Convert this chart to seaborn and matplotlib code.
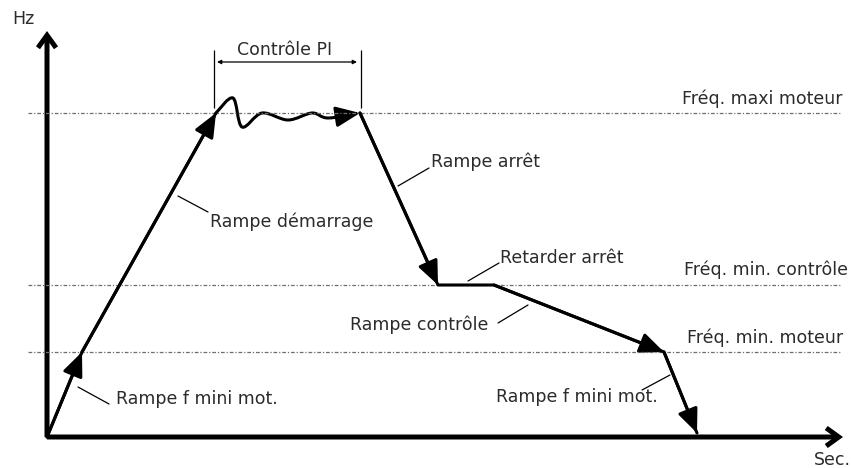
import numpy as np
import matplotlib
matplotlib.use('Agg')
import matplotlib.pyplot as plt
from matplotlib.patches import FancyArrowPatch, ArrowStyle
from matplotlib.path import Path
import seaborn as sns

# time (arbitrary units) and frequency levels
f_min_motor = 85
f_min_ctrl = 152
f_max = 324

ramp_t = [0, 35, 169]
ramp_f = [0, f_min_motor, f_max]
pi_t = [169, 186, 195, 215, 241, 265, 281, 313]
pi_f = [f_max, 339, 310, 324, 317, 324, 319, f_max]
stop_t = [313, 391, 447, 617, 650]
stop_f = [f_max, f_min_ctrl, f_min_ctrl, f_min_motor, 4]

levels = [f_max, f_min_ctrl, f_min_motor]
level_labels = ['Fréq. maxi moteur', 'Fréq. min. contrôle', 'Fréq. min. moteur']

sns.set_theme(style='white')
plt.rcParams['font.family'] = ['DejaVu Sans']

fig = plt.figure(figsize=(8.51, 4.68), dpi=100)
ax = fig.add_axes([0, 0, 1, 1])
ax.set_xlim(-47, 804)
ax.set_ylim(-31, 437)
ax.set_axis_off()

txt = '#2b2b2b'
fs = 12.5

# dashed reference levels
ax.hlines(levels, -19, 793, colors='#6e6e6e', lw=0.9, linestyles=(0, (3, 1.5, 1, 1.5)))
for lv, lab, dy, xr in zip(levels, level_labels, [14, 15, 14], [796, 801, 796]):
    ax.text(xr, lv + dy, lab, ha='right', va='center', fontsize=fs, color=txt)

# axes with open arrow heads
ax_style = ArrowStyle('->', head_length=0.9, head_width=0.65)
for end in [(796, 0), (0, 406)]:
    ax.add_patch(FancyArrowPatch((0, 0), end, arrowstyle=ax_style, mutation_scale=10,
                                 lw=3.6, color='black', shrinkA=0, shrinkB=0,
                                 joinstyle='miter', capstyle='butt'))
ax.text(-23.5, 418, 'Hz', ha='center', va='center', fontsize=fs, color=txt)
ax.text(785, -23, 'Sec.', ha='center', va='center', fontsize=fs, color=txt)

# frequency profile
lw = 2.2
sns.lineplot(x=ramp_t, y=ramp_f, sort=False, estimator=None, color='black', lw=lw, ax=ax)
sns.lineplot(x=stop_t, y=stop_f, sort=False, estimator=None, color='black', lw=lw, ax=ax)

head = ArrowStyle('-|>', head_length=1.45, head_width=0.62)
segs = list(zip(ramp_t[:-1], ramp_f[:-1], ramp_t[1:], ramp_f[1:]))
segs += [s for i, s in enumerate(zip(stop_t[:-1], stop_f[:-1], stop_t[1:], stop_f[1:])) if i != 1]
for x0, y0, x1, y1 in segs:
    ax.add_patch(FancyArrowPatch((x0, y0), (x1, y1), arrowstyle=head, mutation_scale=10,
                                 lw=lw, color='black', shrinkA=0, shrinkB=0))

# PI oscillation as a smooth curve through the read points
P = np.column_stack([pi_t, pi_f]).astype(float)
Pe = np.vstack([P[0], P, P[-1]])
verts = [P[0]]
codes = [Path.MOVETO]
for i in range(1, len(Pe) - 2):
    c1 = Pe[i] + (Pe[i + 1] - Pe[i - 1]) / 6
    c2 = Pe[i + 1] - (Pe[i + 2] - Pe[i]) / 6
    verts += [c1, c2, Pe[i + 1]]
    codes += [Path.CURVE4] * 3
ax.add_patch(FancyArrowPatch(path=Path(verts, codes), arrowstyle=head, mutation_scale=10,
                             lw=lw, color='black', transform=ax.transData))

# PI control dimension
ax.vlines([167, 314], 329, 387, colors='black', lw=0.9)
ax.annotate('', xy=(310, 375), xytext=(170, 375),
            arrowprops=dict(arrowstyle='<|-|>', lw=0.9, color='black', shrinkA=0, shrinkB=0,
                            mutation_scale=6))
ax.text(238, 387, 'Contrôle PI', ha='center', va='center', fontsize=fs, color=txt)

# labels with leader lines
notes = [
    ('Rampe démarrage', (163, 215), 'left', (131, 241), (161, 225)),
    ('Rampe arrêt', (384, 275), 'left', (351, 251), (382, 269)),
    ('Retarder arrêt', (453, 179), 'left', (421, 156), (452, 174)),
    ('Rampe contrôle', (441, 112), 'right', (481, 132), (451, 114)),
    ('Rampe f mini mot.', (69, 38), 'left', (31, 50), (62, 33)),
    ('Rampe f mini mot.', (611, 40), 'right', (623, 62), (595, 47)),
]
for lab, pos, ha, p0, p1 in notes:
    ax.text(pos[0], pos[1], lab, ha=ha, va='center', fontsize=fs, color=txt)
    ax.plot([p0[0], p1[0]], [p0[1], p1[1]], color='black', lw=0.9)

fig.savefig('out.png', dpi=100)
